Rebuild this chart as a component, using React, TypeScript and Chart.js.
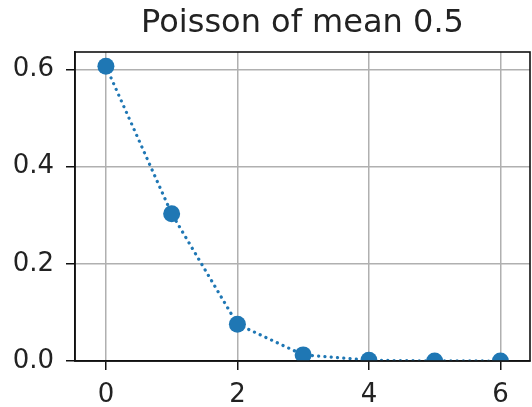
import React, { useEffect, useRef } from "react";
import { Chart, registerables } from "chart.js";

Chart.register(...registerables);

const TITLE = "Poisson of mean 0.5";
const kValues = [0, 1, 2, 3, 4, 5, 6];
const probabilities = [0.6065, 0.3033, 0.0758, 0.0126, 0.0016, 0.0002, 0.0];
const xTickValues = [0, 2, 4, 6];
const yTickValues = [0, 0.2, 0.4, 0.6];

const BLUE = "#1f77b4";
const FONT = "'DejaVu Sans', sans-serif";
const TEXT = "#222222";

const framePlugin = {
  id: "frameAndTitle",
  afterDraw(chart: any) {
    const { ctx, chartArea } = chart;
    ctx.save();
    ctx.strokeStyle = "#111";
    ctx.lineWidth = 1.6;
    ctx.strokeRect(chartArea.left, chartArea.top, chartArea.right - chartArea.left, chartArea.bottom - chartArea.top);
    ctx.fillStyle = TEXT;
    ctx.font = `32px ${FONT}`;
    ctx.textAlign = "center";
    ctx.textBaseline = "alphabetic";
    ctx.fillText(TITLE, (chartArea.left + chartArea.right) / 2, 32);
    ctx.restore();
  },
};

export default function App() {
  const ref = useRef<HTMLCanvasElement | null>(null);
  useEffect(() => {
    if (!ref.current) return;
    const chart = new Chart(ref.current, {
      type: "line",
      data: {
        datasets: [
          {
            data: kValues.map((k, i) => ({ x: k, y: probabilities[i] })),
            borderColor: BLUE,
            backgroundColor: BLUE,
            borderWidth: 3.2,
            borderDash: [0.1, 6.2],
            borderCapStyle: "round",
            pointRadius: 8.5,
            pointBackgroundColor: BLUE,
            pointBorderWidth: 0,
            tension: 0,
            clip: 0,
          } as any,
        ],
      },
      options: {
        animation: false,
        responsive: false,
        events: [],
        layout: { autoPadding: false, padding: { top: 52, right: 2, left: 0, bottom: 0 } },
        plugins: { legend: { display: false }, tooltip: { enabled: false }, title: { display: false } },
        scales: {
          x: {
            type: "linear",
            min: -0.47,
            max: 6.45,
            afterBuildTicks: (s: any) => {
              s.ticks = xTickValues.map((v) => ({ value: v }));
            },
            afterFit: (s: any) => {
              s.height = 46;
            },
            grid: { color: "#b0b0b0", lineWidth: 1.5, tickColor: "#111", tickLength: 9, drawTicks: true },
            border: { color: "#111", width: 1.6 },
            ticks: {
              font: { family: FONT, size: 26 },
              color: TEXT,
              padding: 10,
              maxRotation: 0,
              callback: (v: any) => String(v),
            },
          },
          y: {
            type: "linear",
            min: 0,
            max: 0.636,
            afterBuildTicks: (s: any) => {
              s.ticks = yTickValues.map((v) => ({ value: v }));
            },
            afterFit: (s: any) => {
              s.width = 75;
            },
            grid: { color: "#b0b0b0", lineWidth: 1.5, tickColor: "#111", tickLength: 9, drawTicks: true },
            border: { color: "#111", width: 1.6 },
            ticks: {
              font: { family: FONT, size: 26 },
              color: TEXT,
              padding: 12,
              callback: (v: any) => Number(v).toFixed(1),
            },
          },
        },
      },
      plugins: [framePlugin],
    });
    return () => chart.destroy();
  }, []);
  return (
    <div style={{ position: "absolute", left: 0, top: 0, width: 532, height: 407 }}>
      <canvas ref={ref} width={532} height={407} style={{ width: 532, height: 407, display: "block" }} />
    </div>
  );
}
